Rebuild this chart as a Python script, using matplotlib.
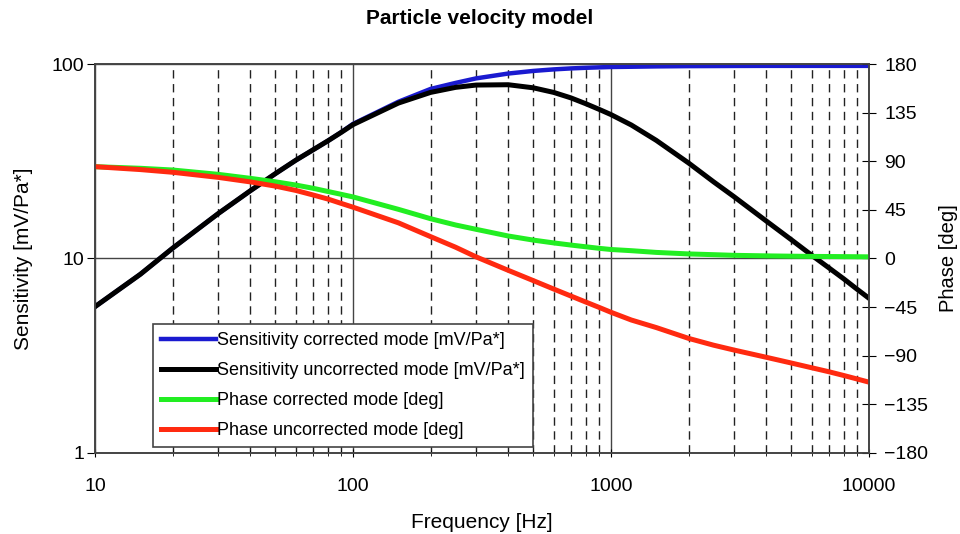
import matplotlib
matplotlib.use("Agg")
import matplotlib.pyplot as plt
from matplotlib.ticker import FixedLocator, FixedFormatter, LogLocator, NullFormatter

plt.rcParams['font.family'] = ['Liberation Sans', 'DejaVu Sans']

# frequencies [Hz] the curves were read at
freq = [10, 15, 20, 30, 40, 50, 60, 70, 80, 90, 100, 150, 200, 250, 300, 400,
        500, 600, 700, 800, 900, 1000, 1200, 1500, 2000, 2500, 3000, 4000,
        5000, 6000, 7000, 8000, 9000, 10000]

# sensitivity [mV/Pa*]
sens_corr = [5.65, 8.3, 11.3, 17.0, 22.3, 27.3, 32.0, 36.2, 40.3, 44.6, 49.2,
             64.0, 74.5, 80.0, 84.4, 89.4, 92.2, 93.9, 95.0, 95.7, 96.2, 96.6,
             96.9, 97.3, 97.6, 97.7, 97.8, 97.9, 97.9, 97.9, 97.9, 97.9, 97.9, 97.9]
sens_uncorr = [5.65, 8.3, 11.3, 17.0, 22.3, 27.3, 32.0, 36.2, 40.3, 44.5, 48.8,
               63.0, 71.5, 75.9, 78.0, 78.3, 75.5, 71.5, 67.0, 62.5, 58.5, 55.0,
               48.6, 40.5, 31.0, 24.8, 20.8, 15.6, 12.5, 10.4, 8.95, 7.85, 6.95, 6.25]

# phase [deg]
phase_corr = [85.0, 83.5, 81.9, 77.9, 74.2, 71.0, 68.0, 65.0, 62.0, 59.4, 57.0,
              45.5, 36.8, 31.0, 27.0, 20.8, 17.0, 14.4, 12.4, 10.8, 9.4, 8.3,
              7.2, 5.6, 4.2, 3.5, 2.9, 2.4, 2.1, 1.9, 1.8, 1.7, 1.6, 1.5]
phase_uncorr = [85.0, 82.3, 79.8, 75.1, 70.9, 67.0, 63.0, 58.8, 55.0, 51.0, 47.5,
                33.0, 20.2, 10.4, 1.5, -11.0, -20.5, -28.3, -34.8, -40.4, -45.3, -49.8,
                -57.0, -64.0, -74.0, -80.3, -84.8, -91.5, -96.8, -101.2, -104.9,
                -108.4, -111.6, -114.5]

x_ticks = [10, 100, 1000, 10000]
x_tick_labels = ['10', '100', '1000', '10000']
sens_ticks = [1, 10, 100]
sens_tick_labels = ['1', '10', '100']
phase_ticks = [-180, -135, -90, -45, 0, 45, 90, 135, 180]

labels = ['Sensitivity corrected mode [mV/Pa*]',
          'Sensitivity uncorrected mode [mV/Pa*]',
          'Phase corrected mode [deg]',
          'Phase uncorrected mode [deg]']

fig = plt.figure(figsize=(9.6, 5.34), dpi=100)
ax = fig.add_axes([0.099, 0.152, 0.806, 0.728])
ax2 = ax.twinx()

l1, = ax.plot(freq, sens_corr, color='#1a1ad0', lw=3.2)
l2, = ax.plot(freq, sens_uncorr, color='black', lw=3.6)
l3, = ax2.plot(freq, phase_corr, color='#22ee22', lw=3.6)
l4, = ax2.plot(freq, phase_uncorr, color='#ff2a10', lw=3.6)

ax.set_xscale('log')
ax.set_yscale('log')
ax.set_xlim(10, 10000)
ax.set_ylim(1, 100)
ax2.set_ylim(-180, 180)

ax.xaxis.set_major_locator(FixedLocator(x_ticks))
ax.xaxis.set_major_formatter(FixedFormatter(x_tick_labels))
ax.xaxis.set_minor_locator(LogLocator(base=10, subs=range(2, 10)))
ax.xaxis.set_minor_formatter(NullFormatter())
ax.yaxis.set_major_locator(FixedLocator(sens_ticks))
ax.yaxis.set_major_formatter(FixedFormatter(sens_tick_labels))
ax.yaxis.set_minor_locator(FixedLocator([]))
ax2.yaxis.set_major_locator(FixedLocator(phase_ticks))

ax.grid(True, which='major', axis='both', color='#444444', lw=1.0)
ax.grid(True, which='minor', axis='x', color='#222222', lw=1.0, linestyle=(0, (6, 4)))

ax.tick_params(axis='x', which='major', direction='inout', length=6, labelsize=14, pad=15)
ax.tick_params(axis='x', which='minor', direction='inout', length=5)
ax.tick_params(axis='y', which='major', direction='out', length=6, labelsize=14, pad=2)
ax2.tick_params(axis='y', direction='inout', length=10, labelsize=14, pad=6)

for a in (ax, ax2):
    for s in a.spines.values():
        s.set_color('#444444')
        s.set_linewidth(1.2)

ax.set_xlabel('Frequency [Hz]', fontsize=15, labelpad=13)
ax.set_ylabel('Sensitivity [mV/Pa*]', fontsize=15, labelpad=13)
ax2.set_ylabel('Phase [deg]', fontsize=14.5, labelpad=8)

fig.text(0.5, 1 - 19 / 534, 'Particle velocity model', ha='center', va='center',
         fontsize=15, fontweight='bold')

leg = ax2.legend([l1, l2, l3, l4], labels, loc='lower left',
                 bbox_to_anchor=(0.075, 0.015), borderaxespad=0,
                 fontsize=13, frameon=True, fancybox=False,
                 handlelength=3.05, handletextpad=0.05, labelspacing=0.72,
                 borderpad=0.45)
leg.get_frame().set_edgecolor('#444444')
leg.get_frame().set_linewidth(1.2)
leg.get_frame().set_alpha(1)

fig.savefig('out.png', dpi=100)
